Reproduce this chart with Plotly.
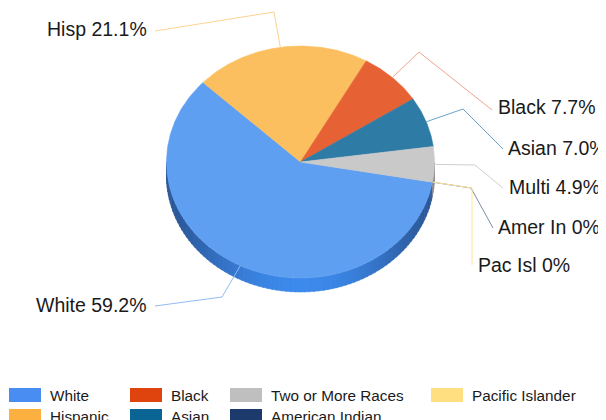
import numpy as np
import plotly.graph_objects as go

# ---------------- data ----------------
categories = ["White", "Hispanic", "Black", "Asian", "Two or More Races",
              "American Indian", "Pacific Islander"]
short_labels = ["White", "Hisp", "Black", "Asian", "Multi", "Amer In", "Pac Isl"]
percent = [59.2, 21.1, 7.7, 7.0, 4.9, 0.0, 0.0]

# ---------------- styles ----------------
legend_colors = ["#4a8df2", "#fbb040", "#e0440e", "#0b6594", "#bfbfbf", "#1c3a6b", "#ffdf80"]
top_colors = ["#5f9ff1", "#fbbf5f", "#e66133", "#2e7ca6", "#c9c9c9", "#27477e", "#ffe599"]
side_dark = ["#2b5797", "#c98a2a", "#a8401c", "#1c5478", "#8e8e8e", "#162c55", "#c9a94e"]
side_bright = ["#3c8aec", "#f5a93a", "#d9501f", "#2a70a0", "#b0b0b0", "#22407a", "#e8c86a"]
line_colors = ["#93bbf5", "#fdd391", "#f2a389", "#6aa5cc", "#d0d0d0", "#7d8ca6", "#ffe49a"]

# page offset (browser body margin) compensation
OFF = 8
W, H = 606, 420
CX, CY, RX, RY, DEPTH = 300.5, 162.0, 134.0, 116.0, 14.0
START = 100.0  # degrees, clockwise from top

# label layout: (elbow x, elbow y, end x, end y, text x, text y, align)
label_layout = [
    (222, 297, 155, 306, 149, 305, "right"),
    (274, 12, 155, 31, 149, 29, "right"),
    (419, 52, 492, 110, 496, 107, "left"),
    (463, 109, 503, 149, 506, 148, "left"),
    (475, 165, 503, 188, 507, 187, "left"),
    (471, 188, 493, 228, 496, 227, "left"),
    (472, 188, 472, 265, 476, 265, "left"),
]

# legend grid (columns of items, by category index)
legend_columns = [[0, 1], [2, 3], [4, 5], [6]]
legend_col_x = [9, 130, 230, 431]
legend_row_y = [395, 416]
SW_W, SW_H = 32, 14

LABEL_FONT = dict(family="Arial, Liberation Sans, sans-serif", size=19.5, color="#1a1a1a")
LEG_FONT = dict(family="Arial, Liberation Sans, sans-serif", size=15.3, color="#1a1a1a")


def pt(t_deg, dy=0.0):
    t = np.radians(t_deg)
    return CX + RX * np.sin(t), CY - RY * np.cos(t) + dy


def hexmix(c1, c2, f):
    a = [int(c1[i:i + 2], 16) for i in (1, 3, 5)]
    b = [int(c2[i:i + 2], 16) for i in (1, 3, 5)]
    m = [round(a[k] + (b[k] - a[k]) * f) for k in range(3)]
    return "#%02x%02x%02x" % tuple(m)


total = sum(percent)
spans = [p / total * 360.0 for p in percent]
starts = []
acc = START
for s in spans:
    starts.append(acc)
    acc += s

fig = go.Figure()

# ---- sides (visible front part: 90..270 deg) ----
for i, (a0, s) in enumerate(zip(starts, spans)):
    if s <= 0:
        continue
    a1 = a0 + s
    for lo, hi in ((90, 270), (450, 630)):
        s0, s1 = max(a0, lo), min(a1, hi)
        if s1 <= s0:
            continue
        n = max(1, int(np.ceil((s1 - s0) / 2.0)))
        edges = np.linspace(s0, s1, n + 1)
        for k in range(n):
            e0, e1 = edges[k], edges[k + 1]
            ts = np.linspace(e0, e1 + 0.4 if k < n - 1 else e1, 4)
            xt, yt = pt(ts)
            xb, yb = pt(ts[::-1], DEPTH)
            xs = np.concatenate([xt, xb, xt[:1]])
            ys = np.concatenate([yt, yb, yt[:1]])
            mid = np.radians((e0 + e1) / 2)
            f = abs(np.cos(mid)) ** 3
            col = hexmix(side_dark[i], side_bright[i], f)
            fig.add_trace(go.Scatter(x=xs, y=ys, mode="lines", fill="toself",
                                     fillcolor=col, line=dict(color=col, width=0.5),
                                     hoverinfo="skip", showlegend=False))

# ---- top surface ----
for i, (a0, s) in enumerate(zip(starts, spans)):
    if s <= 0:
        continue
    ts = np.linspace(a0, a0 + s, max(3, int(s * 2)))
    xa, ya = pt(ts)
    xs = np.concatenate([[CX], xa, [CX]])
    ys = np.concatenate([[CY], ya, [CY]])
    fig.add_trace(go.Scatter(x=xs, y=ys, mode="lines", fill="toself",
                             fillcolor=top_colors[i], line=dict(color=top_colors[i], width=0.6),
                             name=categories[i], hoverinfo="name", showlegend=False))

# ---- leader lines and labels ----
annotations = []
for i, (a0, s) in enumerate(zip(starts, spans)):
    mid = a0 + s / 2.0
    ax, ay = pt(mid)
    ex, ey, lx, ly, tx, ty, al = label_layout[i]
    fig.add_trace(go.Scatter(x=[ax, ex, lx], y=[ay, ey, ly], mode="lines",
                             line=dict(color=line_colors[i], width=1),
                             hoverinfo="skip", showlegend=False))
    pct = "0" if percent[i] == 0 else f"{percent[i]:.1f}"
    annotations.append(dict(x=tx, y=ty, xref="x", yref="y", text=f"{short_labels[i]} {pct}%",
                            showarrow=False, xanchor=al, yanchor="middle", font=LABEL_FONT))

# ---- legend ----
shapes = []
for c, col_items in enumerate(legend_columns):
    for r, idx in enumerate(col_items):
        x0 = legend_col_x[c]
        yc = legend_row_y[r]
        shapes.append(dict(type="rect", xref="x", yref="y", x0=x0, x1=x0 + SW_W,
                           y0=yc - SW_H / 2, y1=yc + SW_H / 2,
                           fillcolor=legend_colors[idx], line=dict(width=0), layer="above"))
        annotations.append(dict(x=x0 + SW_W + 7, y=yc, xref="x", yref="y", text=categories[idx],
                                showarrow=False, xanchor="left", yanchor="middle", font=LEG_FONT))

fig.update_layout(
    width=W - OFF, height=H - OFF,
    margin=dict(l=0, r=0, t=0, b=0),
    paper_bgcolor="white", plot_bgcolor="white",
    xaxis=dict(range=[OFF, W], visible=False, fixedrange=True),
    yaxis=dict(range=[H, OFF], visible=False, fixedrange=True),
    annotations=annotations, shapes=shapes, showlegend=False,
)

fig.write_html("out.html")
